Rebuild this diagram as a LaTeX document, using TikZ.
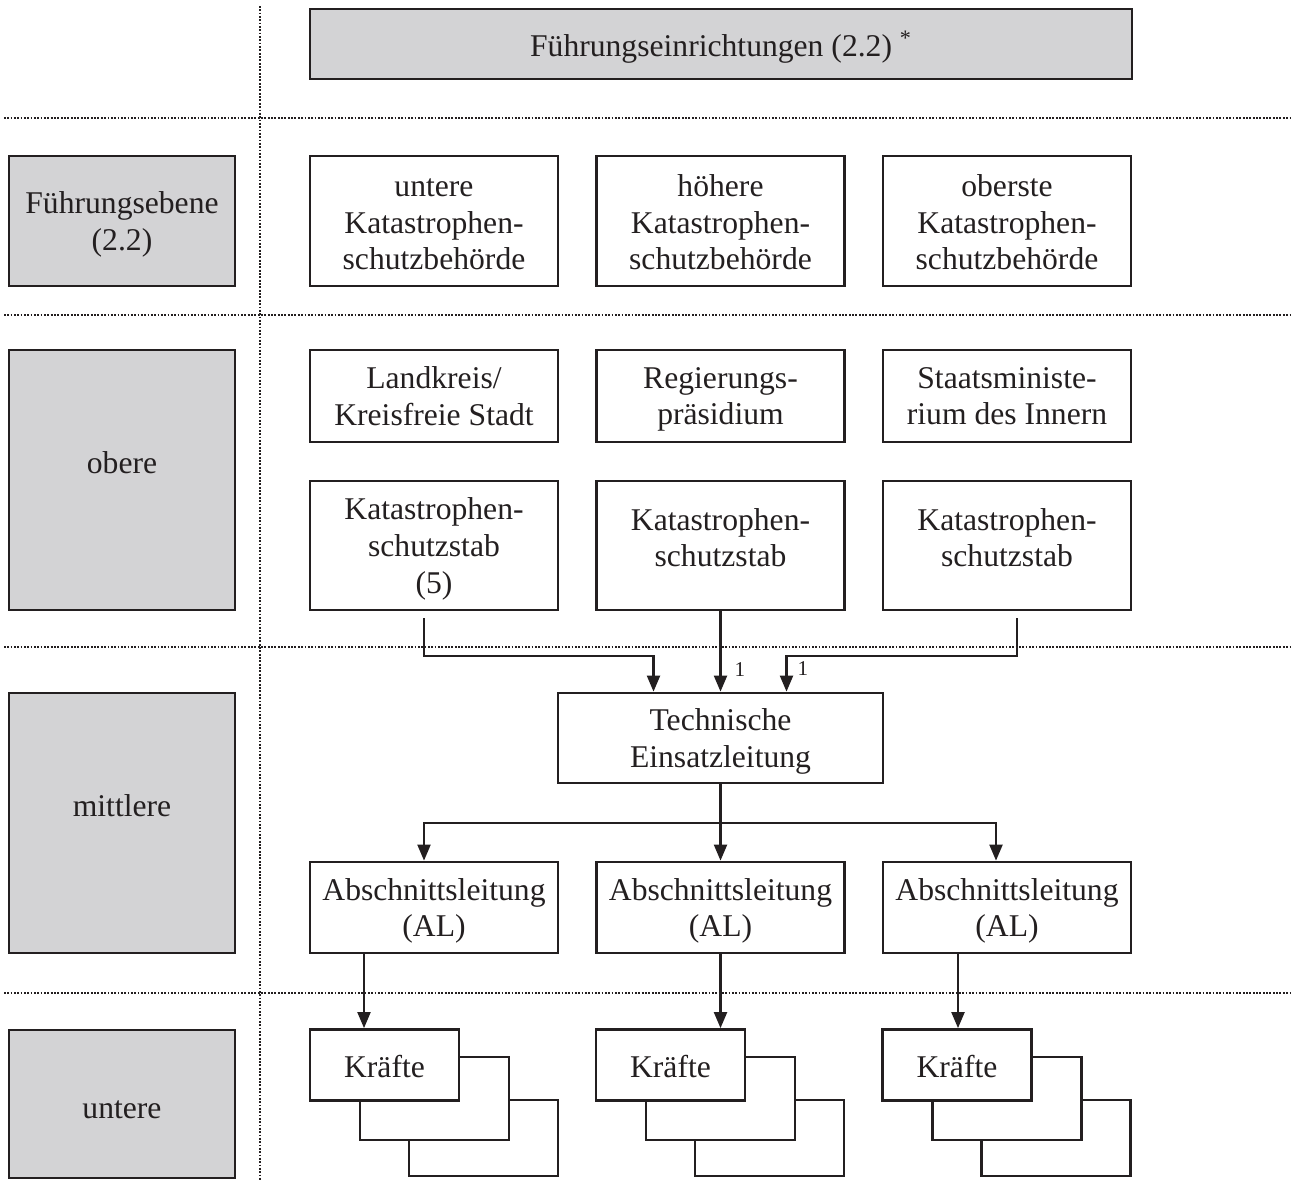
\documentclass[tikz,border=0pt]{standalone}
\usepackage{fontspec}
\setmainfont{Liberation Serif}
\usetikzlibrary{arrows.meta}
\definecolor{ink}{RGB}{35,31,32}
\definecolor{lvlgray}{RGB}{211,211,213}
\tikzset{
  box/.style={draw=ink,line width=1.6pt,text=ink,align=center,inner sep=0pt,
    minimum width=49.6mm,text depth=0pt,font=\fontsize{18}{20.8}\selectfont},
  lvl/.style={box,fill=lvlgray,minimum width=45.2mm},
  kbox/.style={box,fill=white,minimum width=29.8mm,minimum height=14.2mm,text height=5.1mm},
  sep/.style={ink,line width=1.1pt,dash pattern=on 1pt off 0.9pt},
  conn/.style={draw=ink,line width=1.2pt},
  arr/.style={conn,-{Triangle[width=2.6mm,length=3.2mm]}},
  fn/.style={text=ink,font=\fontsize{12}{12}\selectfont,inner sep=0pt}
}
\begin{document}
\begin{tikzpicture}[x=0.2mm,y=-0.2mm]
\useasboundingbox (0,0) rectangle (1291,1180);
% separators
\draw[sep] (260,6) -- (260,1180);
\foreach \h in {118,315,647,993} \draw[sep] (4,\h) -- (1291,\h);
% head
\node[box,fill=lvlgray,minimum width=164.4mm,minimum height=14mm] (head) at (721,44)
  {Führungseinrichtungen (2.2)~\textsuperscript{*}};
% levels
\node[lvl,minimum height=26mm] (ebene) at (122,221) {Führungsebene\\(2.2)};
\node[lvl,minimum height=52mm,text depth=6.8mm] (obere) at (122,480) {obere};
\node[lvl,minimum height=52mm,text depth=6.8mm] (mittlere) at (122,823) {mittlere};
\node[lvl,minimum height=29.6mm,text height=5.7mm] (untere) at (122,1104) {untere};
% authorities
\node[box,minimum height=26mm,text height=19.45mm] (b1) at (434,221) {untere\\Katastrophen-\\schutzbehörde};
\node[box,minimum height=26mm,text height=19.45mm] (b2) at (720.5,221) {höhere\\Katastrophen-\\schutzbehörde};
\node[box,minimum height=26mm,text height=19.45mm] (b3) at (1007,221) {oberste\\Katastrophen-\\schutzbehörde};
\node[box,minimum height=18.4mm] (l1) at (434,396) {Landkreis/\\Kreisfreie Stadt};
\node[box,minimum height=18.4mm] (l2) at (720.5,396) {Regierungs-\\präsidium};
\node[box,minimum height=18.4mm] (l3) at (1007,396) {Staatsministe-\\rium des Innern};
\node[box,minimum height=25.8mm] (s1) at (434,545.5) {Katastrophen-\\schutzstab\\(5)};
\node[box,minimum height=25.8mm,text depth=3.2mm] (s2) at (720.5,545.5) {Katastrophen-\\schutzstab};
\node[box,minimum height=25.8mm,text depth=3.2mm] (s3) at (1007,545.5) {Katastrophen-\\schutzstab};
% operations
\node[box,minimum width=65mm,minimum height=18mm] (tel) at (720.5,738) {Technische\\Einsatzleitung};
\node[box,minimum height=18.2mm] (a1) at (434,907.5) {Abschnittsleitung\\(AL)};
\node[box,minimum height=18.2mm] (a2) at (720.5,907.5) {Abschnittsleitung\\(AL)};
\node[box,minimum height=18.2mm] (a3) at (1007,907.5) {Abschnittsleitung\\(AL)};
\foreach \i/\x in {1/384.5,2/670.5,3/957}{
  \node[kbox,minimum height=15.2mm] (k\i-3) at (\x+99,1138) {};
  \node[kbox,minimum height=16.6mm] (k\i-2) at (\x+50,1098.5) {};
  \node[kbox] (k\i) at (\x,1065) {Kräfte};
}
% connectors
\draw[arr] ([xshift=-2mm,yshift=-1.4mm]s1.south) |- ([xshift=-13.4mm,yshift=7.2mm]tel.north)
  -- ([xshift=-13.4mm]tel.north);
\draw[arr] (s2.south) -- (tel.north) node[fn,anchor=west,pos=0.72,xshift=2.6mm] (n1) {1};
\draw[arr] ([xshift=2mm,yshift=-1.4mm]s3.south) |- ([xshift=13.2mm,yshift=7.2mm]tel.north)
  -- ([xshift=13.2mm]tel.north) node[fn,anchor=west,pos=0.36,xshift=2mm] (n2) {1};
\draw[conn] (tel.south) -- ++(0,39) coordinate (fork);
\draw[arr] (fork) -- (a2.north);
\draw[arr] (fork) -| ([xshift=-2mm]a1.north);
\draw[arr] (fork) -| ([xshift=-2.2mm]a3.north);
\coordinate (t1) at ([xshift=-14mm]a1.south);
\coordinate (t3) at ([xshift=-9.8mm]a3.south);
\draw[arr] (t1) -- (t1 |- k1.north);
\draw[arr] (a2.south) -- (a2.south |- k2.north);
\draw[arr] (t3) -- (t3 |- k3.north);
\end{tikzpicture}
\end{document}
